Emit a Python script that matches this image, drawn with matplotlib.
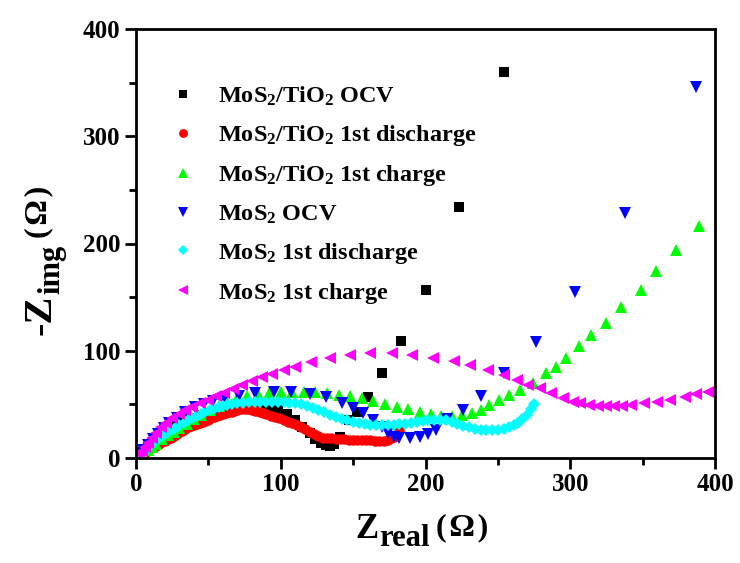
import matplotlib
matplotlib.use('Agg')
import matplotlib.pyplot as plt
from matplotlib.ticker import MultipleLocator

plt.rcParams['font.family'] = ['Liberation Serif', 'DejaVu Serif']
plt.rcParams['font.weight'] = 'bold'
plt.rcParams['mathtext.fontset'] = 'custom'
plt.rcParams['mathtext.rm'] = 'Liberation Serif:bold'
plt.rcParams['mathtext.it'] = 'Liberation Serif:bold'
plt.rcParams['mathtext.bf'] = 'Liberation Serif:bold'
plt.rcParams['mathtext.default'] = 'rm'

# ---- data ----
ti_ocv_x = [3, 5, 8, 11, 15, 19, 23, 28, 33, 38, 44, 50, 56, 63, 70, 77, 84, 91, 98, 104,
            110, 115, 120, 124, 128, 131, 134, 137, 141, 147, 153, 160, 170, 183, 200, 223, 254]
ti_ocv_y = [2, 6, 10, 14, 19, 23, 27, 31, 34, 37, 40, 42, 44, 46, 47, 47.5, 47, 46.5, 45, 41,
            35, 29, 23, 18, 14, 12, 11, 13, 20, 35, 43, 57, 79, 109, 157, 234, 360]

ti_dis_x = [2, 4, 6, 8, 10, 12, 14, 16, 18, 20, 22, 24, 26, 28, 30, 32, 34, 36, 38, 40,
            42, 44, 46, 48, 50, 52, 54, 56, 58, 60, 62, 64, 66, 68, 70, 72, 74, 76, 78, 80,
            82, 84, 86, 88, 90, 93, 96, 99, 102, 105, 108, 111, 114, 117, 120, 123, 126, 129, 132, 135,
            138, 141, 144, 147, 150, 153, 156, 159, 162, 165, 168, 171, 174, 176, 178, 180, 182]
ti_dis_y = [1.5, 3.5, 5, 7, 9, 10.5, 11.5, 13, 14.5, 16, 17.5, 19, 20.5, 22.5, 24, 25.5, 27, 28.5, 29.5, 30.5,
            31.5, 32.5, 33.5, 34.5, 35.5, 37, 38, 39, 40, 41, 41.5, 42.5, 43, 44, 44.5, 45.5, 46, 46, 45.5, 45,
            44, 43.5, 42.5, 41.7, 41, 39.5, 38.5, 37, 35.5, 34, 32.5, 30.8, 29, 27, 24.5, 22.5, 20.5, 19, 18.5, 18.3,
            18, 17.7, 17.4, 17.2, 17.1, 17, 16.8, 16.6, 16.4, 16.2, 16, 16.2, 17, 18.3, 20, 22.5, 26]

ti_chg_x = [3, 5, 8, 11, 14, 18, 22, 26, 30, 35, 40, 45, 51, 57, 63, 70, 77, 84, 92, 100,
            108, 116, 124, 132, 140, 148, 156, 164, 172, 180, 188, 196, 204, 211, 218, 225, 232, 238, 244, 251,
            258, 265, 274, 283, 290, 297, 306, 314, 325, 335, 349, 359, 373, 389]
ti_chg_y = [2, 4, 7, 10, 13.5, 17.5, 21, 24.5, 28, 32, 36, 40, 44.5, 48.5, 52, 55.5, 58, 59.5, 60.5, 61.5,
            62, 62, 61.5, 60.5, 59, 57.5, 55.5, 53, 50.5, 48, 45.5, 43, 41, 39.5, 39, 40, 42, 45, 49, 54,
            58.7, 63.4, 69.6, 79, 85, 93, 104, 115, 126, 141, 157, 174, 194, 216]

mo_ocv_x = [3, 5, 8, 12, 15, 19, 23, 28, 34, 41, 47, 53, 61, 71, 82, 95, 107, 120, 131, 142,
            150, 157, 164, 170, 174, 178, 182, 189, 196, 202, 207, 215, 226, 238, 254, 276, 303, 338, 387]
mo_ocv_y = [3, 7, 12, 18, 22.5, 28, 32.5, 37.5, 42.5, 47.5, 50.5, 53, 55.5, 58, 60.5, 62, 62, 59.5, 57, 51,
            46.5, 42, 35.5, 29, 23.5, 20, 18.5, 18.5, 20, 22, 26, 36, 45, 58, 79, 108, 155, 228, 346]

mo_dis_x = [2, 4, 6, 8, 10, 12, 14, 16, 18, 20, 22, 24, 26, 28, 30, 33, 36, 39, 42, 45,
            48, 51, 54, 57, 60, 63, 66, 70, 74, 78, 82, 86, 90, 94, 98, 102, 106, 110, 114, 118,
            122, 126, 130, 134, 138, 142, 146, 150, 154, 158, 162, 166, 170, 174, 178, 182, 186, 190, 194, 198,
            202, 206, 210, 214, 218, 222, 226, 230, 234, 238, 242, 246, 250, 254, 258, 261, 264, 267, 270, 273, 275]
mo_dis_y = [1.5, 4, 6.5, 9, 11.5, 14, 16.5, 18.5, 20.5, 22.5, 24.5, 26, 27.5, 29, 30.5, 33, 35, 37, 39, 41,
            43, 44.5, 46, 47.5, 48.5, 49.5, 50.5, 51, 51.5, 52, 52.5, 52.5, 52.5, 52.5, 52, 52, 51.5, 51, 50, 48.5,
            47, 45, 43, 40.5, 38.5, 36.5, 35, 33.5, 32.5, 31.5, 31, 30.5, 30.5, 30.5, 31, 31.5, 32, 33, 34, 34.5,
            35, 35.5, 35.5, 35, 33.5, 32, 30, 28.5, 27.5, 26.5, 26, 26, 26.5, 27, 28.5, 30.5, 33, 36.5, 40.5, 45.5, 50]

mo_chg_x = [2, 4, 6, 8.5, 11, 14, 17.5, 21, 25, 29.5, 34, 39, 44, 49.5, 55, 61, 67, 73, 80, 87,
            94, 102, 110, 121, 134, 148, 162, 177, 191, 205, 220, 231, 243, 254, 263, 271, 279, 287, 295, 302,
            307, 313, 319, 325, 330, 336, 342, 351, 360, 369, 379, 387, 395]
mo_chg_y = [3.5, 6.5, 10, 14, 18.5, 23, 28.5, 33, 37, 41, 44.5, 48, 51.5, 54.5, 57.5, 61, 64.5, 68, 72, 75.8,
            78.5, 82, 85, 89.8, 93, 96, 97.6, 97.6, 96, 93.5, 90, 87, 82, 77.5, 73, 68, 65, 60.5, 56, 52.5,
            51, 49.5, 48.5, 48.5, 48.5, 48.5, 49.5, 51, 52.5, 54.5, 57, 59.5, 61.5]

labels = [r'MoS$_{2}$/TiO$_{2}$ OCV',
          r'MoS$_{2}$/TiO$_{2}$ 1st discharge',
          r'MoS$_{2}$/TiO$_{2}$ 1st charge',
          r'MoS$_{2}$ OCV',
          r'MoS$_{2}$ 1st discharge',
          r'MoS$_{2}$ 1st charge']
colors = ['#000000', '#ff0000', '#00ff00', '#0000ff', '#00ffff', '#ff00ff']
markers = ['s', 'o', '^', 'v', 'D', '<']
sizes = [7, 7.5, 9, 9, 6, 8.5]

series = [(ti_ocv_x, ti_ocv_y), (ti_dis_x, ti_dis_y), (ti_chg_x, ti_chg_y),
          (mo_ocv_x, mo_ocv_y), (mo_dis_x, mo_dis_y), (mo_chg_x, mo_chg_y)]

W, H = 740, 563
fig = plt.figure(figsize=(W / 100, H / 100), dpi=100)
ax = fig.add_axes([136 / W, 105 / H, 579 / W, 429 / H])

handles = []
for (xs, ys), lab, c, m, s in zip(series, labels, colors, markers, sizes):
    h, = ax.plot(xs, ys, linestyle='none', marker=m, markersize=s, color=c,
                 markeredgewidth=0, label=lab)
    handles.append(h)

ax.set_xlim(0, 400)
ax.set_ylim(0, 400)
ax.xaxis.set_major_locator(MultipleLocator(100))
ax.yaxis.set_major_locator(MultipleLocator(100))
ax.xaxis.set_minor_locator(MultipleLocator(50))
ax.yaxis.set_minor_locator(MultipleLocator(50))
ax.tick_params(which='major', direction='out', length=8, width=2, labelsize=18, pad=3,
               top=False, right=False)
ax.tick_params(which='minor', direction='out', length=5, width=2, top=False, right=False)
for lab in ax.get_xticklabels() + ax.get_yticklabels():
    lab.set_fontweight('bold')
for s in ax.spines.values():
    s.set_linewidth(2)

ax.legend(handles=handles, loc='upper left', bbox_to_anchor=(0.06, 0.87), frameon=False,
          fontsize=17.5, handlelength=1.0, handletextpad=0.95, labelspacing=0.62,
          borderpad=0, borderaxespad=0, markerscale=0.85)

# ---- axis titles built from pieces (Z, subscript, unit) ----
renderer = fig.canvas.get_renderer()
unit = '(\u200aΩ\u200a)'

# x title: (text, fontsize, baseline y in pixels from top, gap before)
x_parts = [('Z', 25, 538, 0), ('real', 22, 546, 1), (unit, 23, 535, 6)]
cx = 355
for s, fs, by, gap in x_parts:
    cx += gap
    t = fig.text(cx / W, (H - by) / H, s, fontsize=fs, fontweight='bold',
                 ha='left', va='baseline')
    bb = t.get_window_extent(renderer)
    cx = bb.x1

# y title, rotated: (text, fontsize, baseline x in pixels, gap before)
y_parts = [('-Z', 29, 51, 0), ('img', 22, 59, 1), (unit, 23, 46, 6)]
cy = H - 335
for s, fs, bx, gap in y_parts:
    cy += gap
    t = fig.text(bx / W, cy / H, s, fontsize=fs, fontweight='bold', rotation=90,
                 rotation_mode='anchor', ha='left', va='baseline')
    bb = t.get_window_extent(renderer)
    cy = bb.y1

fig.savefig('out.png', dpi=100)
